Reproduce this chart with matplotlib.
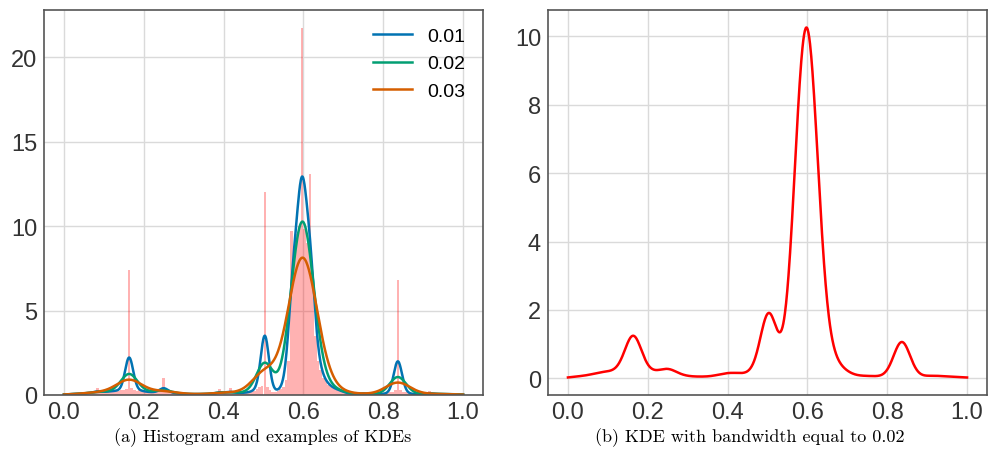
import numpy as np
import matplotlib
matplotlib.use("Agg")
import matplotlib.pyplot as plt

# histogram: 150 bins of equal width over [0, 1], density units
hist_density = [
    0.05, 0.05, 0.05, 0.05, 0.05, 0.08, 0.08, 0.1, 0.1, 0.1,
    0.1, 0.15, 0.4, 0.15, 0.15, 0.2, 0.2, 0.2, 0.25, 0.25,
    0.25, 0.3, 0.3, 0.35, 7.4, 0.4, 0.3, 0.25, 0.3, 0.25,
    0.2, 0.15, 0.2, 0.15, 0.15, 0.2, 0.2, 1.0, 0.2, 0.15,
    0.15, 0.1, 0.1, 0.08, 0.06, 0.05, 0.05, 0.05, 0.05, 0.05,
    0.05, 0.05, 0.05, 0.05, 0.05, 0.05, 0.08, 0.1, 0.34, 0.1,
    0.1, 0.1, 0.42, 0.1, 0.1, 0.12, 0.12, 0.12, 0.15, 0.15,
    0.2, 0.25, 0.35, 0.45, 0.55, 12.0, 0.45, 0.3, 0.2, 0.2,
    0.25, 0.35, 0.5, 0.9, 2.0, 9.7, 8.8, 9.5, 10.0, 21.7,
    9.8, 9.0, 13.1, 6.5, 3.5, 2.0, 1.5, 1.0, 0.8, 0.6,
    0.5, 0.4, 0.3, 0.34, 0.2, 0.15, 0.1, 0.08, 0.06, 0.05,
    0.05, 0.05, 0.18, 0.05, 0.05, 0.05, 0.05, 0.05, 0.05, 0.05,
    0.05, 0.1, 0.15, 0.2, 0.3, 6.8, 0.3, 0.2, 0.15, 0.1,
    0.05, 0.05, 0.05, 0.05, 0.05, 0.05, 0.05, 0.24, 0.05, 0.05,
    0.05, 0.05, 0.05, 0.05, 0.05, 0.05, 0.05, 0.05, 0.05, 0.05,
]
bandwidths = [0.01, 0.02, 0.03]
bw_labels = ["0.01", "0.02", "0.03"]
kde_colors = ["#0173B2", "#029E73", "#D55E00"]
captions = ["(a) Histogram and examples of KDEs",
            "(b) KDE with bandwidth equal to 0.02"]

edges = np.linspace(0, 1, len(hist_density) + 1)
width = edges[1] - edges[0]
centers = edges[:-1] + width / 2
heights = np.array(hist_density)


def kde(x, bw):
    # gaussian kernel density of the binned sample
    z = (x[:, None] - centers[None, :]) / bw
    k = np.exp(-0.5 * z ** 2) / (bw * np.sqrt(2 * np.pi))
    return (k * heights * width).sum(axis=1)


plt.rcParams['font.family'] = ['Liberation Sans', 'DejaVu Sans']

fig = plt.figure(figsize=(9.91, 4.64), dpi=100)
ax1 = fig.add_axes([44 / 991, 1 - 396 / 464, 439 / 991, 385 / 464])
ax2 = fig.add_axes([548 / 991, 1 - 396 / 464, 439 / 991, 385 / 464])

xs = np.linspace(0, 1, 1000)

ax1.bar(edges[:-1], heights, width=width, align='edge', color='red',
        alpha=0.3, linewidth=0)
for bw, lab, col in zip(bandwidths, bw_labels, kde_colors):
    ax1.plot(xs, kde(xs, bw), color=col, lw=1.8, label=lab)
ax1.legend(loc='upper right', frameon=False, fontsize=14)

ax2.plot(xs, kde(xs, 0.02), color='red', lw=1.8)

for ax in (ax1, ax2):
    ax.set_xticks([0.0, 0.2, 0.4, 0.6, 0.8, 1.0])
    ax.grid(True, color='#dadada', lw=1)
    ax.set_axisbelow(True)
    for s in ax.spines.values():
        s.set_color('#555555')
        s.set_linewidth(1.2)
    ax.tick_params(length=0, labelsize=17, colors='#333333')
    ax.tick_params(axis='x', pad=4)
    ax.tick_params(axis='y', pad=5)
ax1.set_yticks([0, 5, 10, 15, 20])

fig.text(263 / 991, 1 - 438 / 464, captions[0], ha='center', va='center',
         family='cmr10', fontsize=13)
fig.text(750 / 991, 1 - 438 / 464, captions[1], ha='center', va='center',
         family='cmr10', fontsize=13)

fig.savefig('out.png', dpi=100)
